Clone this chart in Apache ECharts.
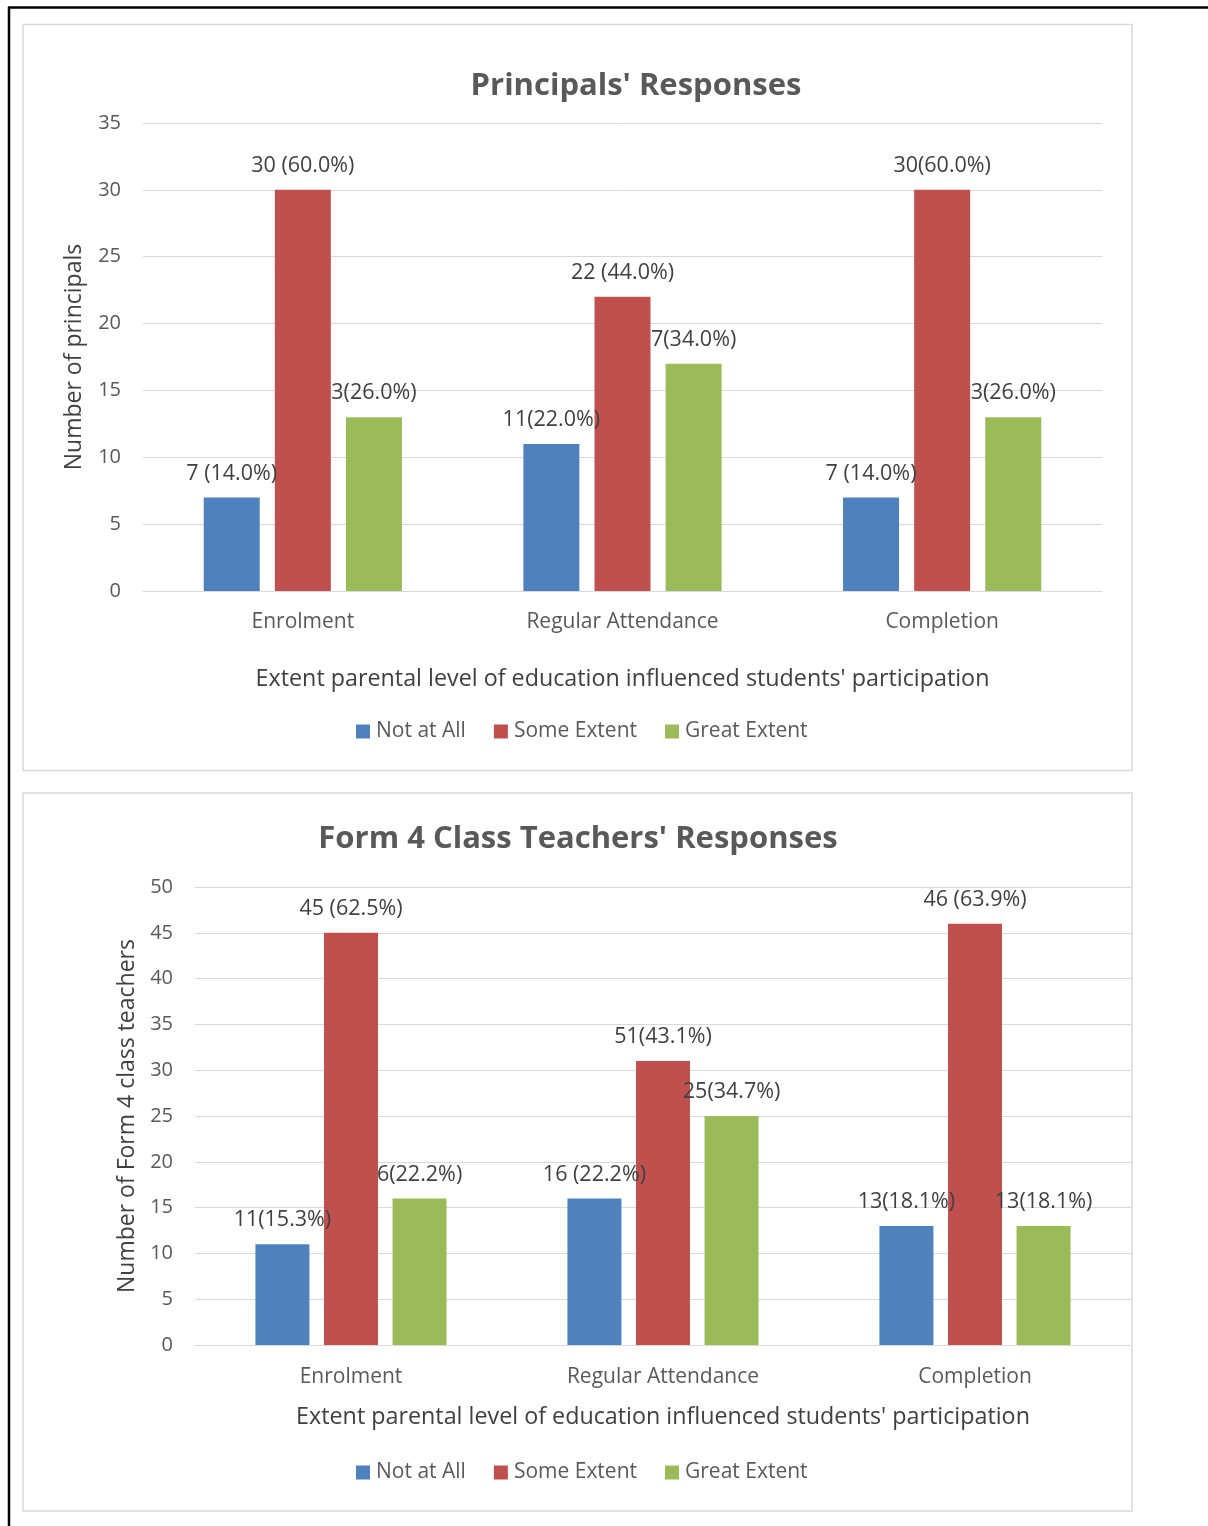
<!DOCTYPE html>
<html>
<head>
<meta charset="utf-8">
<script src="https://cdn.jsdelivr.net/npm/echarts@6/dist/echarts.min.js"></script>
<style>
  html, body { margin: 0; padding: 0; background: #fff; }
  #chart { width: 1208px; height: 1526px; }
</style>
</head>
<body>
<div id="chart"></div>
<script>
// Categories and series shared by both panels
const categories = ['Enrolment', 'Regular Attendance', 'Completion'];
const seriesNames = ['Not at All', 'Some Extent', 'Great Extent'];
const colors = ['#4f81bd', '#c0504d', '#9bbb59'];

// Principals' panel
const principalsNotAtAll = [7, 11, 7];
const principalsSome = [30, 22, 30];
const principalsGreat = [13, 17, 13];
const principalsNotAtAllLabels = ['7 (14.0%)', '11(22.0%)', '7 (14.0%)'];
const principalsSomeLabels = ['30 (60.0%)', '22 (44.0%)', '30(60.0%)'];
const principalsGreatLabels = ['3(26.0%)', '7(34.0%)', '3(26.0%)'];
const principalsTicks = { min: 0, max: 35, interval: 5 };

// Form 4 class teachers' panel
const teachersNotAtAll = [11, 16, 13];
const teachersSome = [45, 31, 46];
const teachersGreat = [16, 25, 13];
const teachersNotAtAllLabels = ['11(15.3%)', '16 (22.2%)', '13(18.1%)'];
const teachersSomeLabels = ['45 (62.5%)', '51(43.1%)', '46 (63.9%)'];
const teachersGreatLabels = ['6(22.2%)', '25(34.7%)', '13(18.1%)'];
const teachersTicks = { min: 0, max: 50, interval: 5 };

const FONT = '"Open Sans", "Noto Sans", sans-serif';
const GRID_LINE = '#d9d9d9';
const TEXT = '#595959';

function makeSeries(name, values, labels, idx, barWidth) {
  return {
    name: name,
    type: 'bar',
    xAxisIndex: idx,
    yAxisIndex: idx,
    barWidth: barWidth,
    barGap: '27%',
    itemStyle: { color: colors[seriesNames.indexOf(name)] },
    label: {
      show: true,
      position: 'top',
      distance: 13,
      fontFamily: FONT,
      fontSize: 21.5,
      color: '#404040',
      formatter: p => labels[p.dataIndex]
    },
    emphasis: { disabled: true },
    data: values
  };
}

function xAxisFor(idx, margin, nameGap) {
  return {
    type: 'category',
    gridIndex: idx,
    data: categories,
    axisTick: { show: false },
    axisLine: { lineStyle: { color: GRID_LINE, width: 1 } },
    axisLabel: { fontFamily: FONT, fontSize: 21, color: TEXT, margin: margin },
    name: "Extent parental level of education influenced students' participation",
    nameLocation: 'middle',
    nameGap: nameGap,
    nameTextStyle: { fontFamily: FONT, fontSize: 23.3, color: '#404040' }
  };
}

function yAxisFor(idx, ticks, name, nameGap) {
  return {
    type: 'value',
    gridIndex: idx,
    min: ticks.min,
    max: ticks.max,
    interval: ticks.interval,
    axisLine: { show: false },
    axisTick: { show: false },
    splitLine: { lineStyle: { color: GRID_LINE, width: 1 } },
    axisLabel: { fontFamily: FONT, fontSize: 20, color: TEXT, margin: 22 },
    name: name,
    nameLocation: 'middle',
    nameGap: nameGap,
    nameTextStyle: { fontFamily: FONT, fontSize: 23, color: '#404040' }
  };
}

function legendAt(top) {
  return {
    left: 351,
    top: top,
    icon: 'rect',
    itemWidth: 14,
    itemHeight: 14,
    itemGap: 28,
    data: seriesNames,
    textStyle: { fontFamily: FONT, fontSize: 21, color: TEXT, padding: [0, 0, 0, 1] },
    selectedMode: false
  };
}

const chart = echarts.init(document.getElementById('chart'), null, { renderer: 'canvas' });

chart.setOption({
  animation: false,
  backgroundColor: '#fff',
  title: [
    {
      text: "Principals' Responses",
      left: 631, top: 66, textAlign: 'center',
      textStyle: { fontFamily: FONT, fontSize: 31, fontWeight: 'bold', color: TEXT }
    },
    {
      text: "Form 4 Class Teachers' Responses",
      left: 573, top: 819, textAlign: 'center',
      textStyle: { fontFamily: FONT, fontSize: 31, fontWeight: 'bold', color: TEXT }
    }
  ],
  legend: [legendAt(716), legendAt(1457)],
  grid: [
    { left: 143, right: 106, top: 123, height: 468 },
    { left: 195, right: 77, top: 887, height: 458 }
  ],
  xAxis: [xAxisFor(0, 21, 77), xAxisFor(1, 22, 61)],
  yAxis: [
    yAxisFor(0, principalsTicks, 'Number of principals', 57),
    yAxisFor(1, teachersTicks, 'Number of Form 4 class teachers', 56)
  ],
  series: [
    makeSeries('Not at All', principalsNotAtAll, principalsNotAtAllLabels, 0, 56),
    makeSeries('Some Extent', principalsSome, principalsSomeLabels, 0, 56),
    makeSeries('Great Extent', principalsGreat, principalsGreatLabels, 0, 56),
    makeSeries('Not at All', teachersNotAtAll, teachersNotAtAllLabels, 1, 54),
    makeSeries('Some Extent', teachersSome, teachersSomeLabels, 1, 54),
    makeSeries('Great Extent', teachersGreat, teachersGreatLabels, 1, 54)
  ],
  graphic: [
    // outer page frame (top and left edges)
    { type: 'line', shape: { x1: 8, y1: 7.5, x2: 1208, y2: 7.5 }, style: { stroke: '#000', lineWidth: 2.5 }, silent: true },
    { type: 'line', shape: { x1: 9, y1: 7, x2: 9, y2: 1526 }, style: { stroke: '#000', lineWidth: 2.5 }, silent: true },
    // panel borders
    { type: 'rect', shape: { x: 23, y: 24.5, width: 1109, height: 746 }, style: { fill: null, stroke: '#d9d9d9', lineWidth: 1.5 }, silent: true, z: -1 },
    { type: 'rect', shape: { x: 23, y: 793, width: 1109, height: 718 }, style: { fill: null, stroke: '#d9d9d9', lineWidth: 1.5 }, silent: true, z: -1 }
  ]
});
</script>
</body>
</html>
